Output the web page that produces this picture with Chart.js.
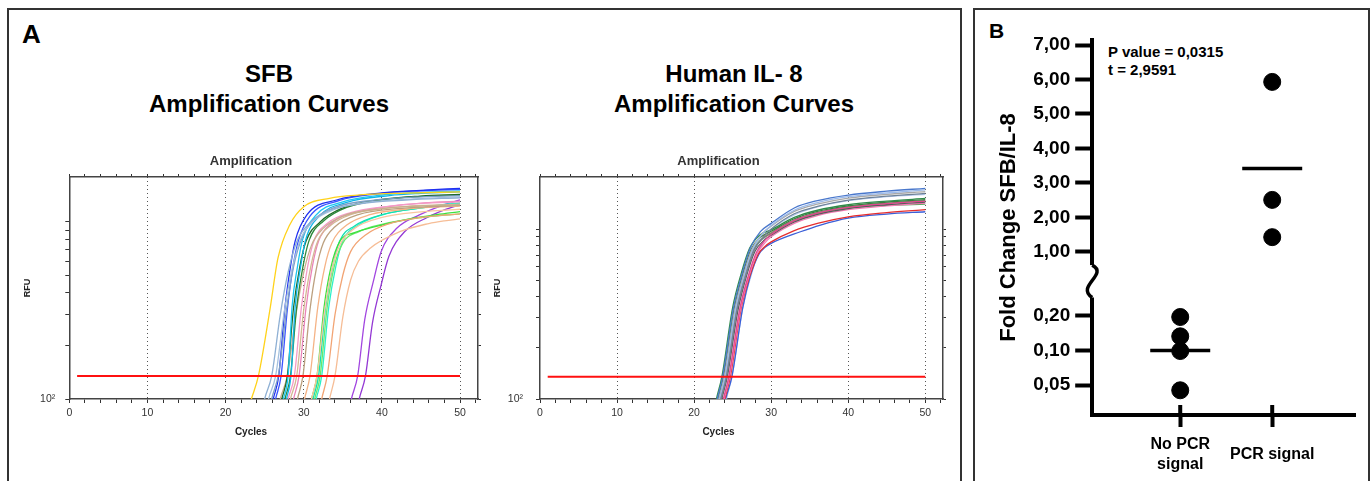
<!DOCTYPE html>
<html>
<head>
<meta charset="utf-8">
<script src="https://cdn.jsdelivr.net/npm/chart.js@4.4.1/dist/chart.umd.min.js"></script>
<style>
  body { margin: 0; background: #fff; width: 1370px; height: 481px; overflow: hidden; position: relative;
         font-family: "Liberation Sans", Arial, sans-serif; }
  .panel { position: absolute; border: 2px solid #333; border-bottom: none; box-sizing: border-box; }
  .txt { position: absolute; font-weight: bold; color: #000; white-space: nowrap; }
  .ctr { text-align: center; width: 300px; }
  canvas { position: absolute; }
</style>
</head>
<body>
<div class="panel" style="left:7px;top:8px;width:955px;height:480px"></div>
<div class="panel" style="left:973px;top:8px;width:397px;height:480px"></div>

<div class="txt" style="left:22px;top:21px;font-size:26px;line-height:26px">A</div>
<div class="txt ctr" style="left:119px;top:62px;font-size:24px;line-height:24px">SFB</div>
<div class="txt ctr" style="left:119px;top:92px;font-size:24px;line-height:24px">Amplification Curves</div>
<div class="txt ctr" style="left:584px;top:62px;font-size:24px;line-height:24px">Human IL- 8</div>
<div class="txt ctr" style="left:584px;top:92px;font-size:24px;line-height:24px">Amplification Curves</div>

<div class="txt" style="left:989px;top:20px;font-size:21px;line-height:21px">B</div>
<div class="txt" style="left:1108px;top:44px;font-size:15px;line-height:15px">P value = 0,0315</div>
<div class="txt" style="left:1108px;top:62px;font-size:15px;line-height:15px">t = 2,9591</div>

<canvas id="sfbChart" width="468" height="300" style="left:20px;top:140px"></canvas>
<canvas id="il8Chart" width="463" height="300" style="left:490px;top:140px"></canvas>
<canvas id="foldChart" width="392" height="466" style="left:976px;top:12px"></canvas>

<script>
// amplification curves, [cycle, RFU]
const sfbCurves = [
  [[23.0,90],[23.3,100],[24.2,135],[25.7,325],[26.7,624],[28.2,962],[30.0,1220],[33.3,1361],[37.2,1421],[43,1455],[50,1480]],
  [[24.8,90],[25.0,100],[25.9,135],[27.0,300],[28.0,520],[29.1,774],[30.5,960],[33,1150],[37.6,1274],[43,1330],[50,1370]],
  [[25.3,90],[25.5,100],[26.4,135],[27.5,310],[28.5,540],[29.6,800],[31,990],[34,1180],[38,1290],[44,1350],[50,1390]],
  [[25.7,90],[25.9,100],[26.8,140],[27.8,320],[28.7,560],[29.8,820],[31.2,1020],[34,1210],[39,1330],[44,1380],[50,1410]],
  [[25.9,90],[26.1,100],[26.8,135],[27.6,330],[28.3,560],[28.9,780],[30.4,1096],[34.2,1331],[40,1460],[45,1510],[50,1550]],
  [[26.2,90],[26.4,100],[27.1,135],[27.9,320],[28.6,550],[29.3,780],[30.8,1080],[34.5,1320],[40,1450],[45,1500],[50,1530]],
  [[27.2,90],[27.4,100],[28.0,135],[28.5,330],[29.2,560],[29.8,780],[31.6,1096],[35,1300],[40,1420],[45,1470],[50,1500]],
  [[27.6,90],[27.8,100],[28.4,140],[28.9,330],[29.6,560],[30.2,780],[32,1080],[35.5,1290],[41,1410],[45,1450],[50,1480]],
  [[27.0,90],[27.2,100],[27.9,135],[28.7,330],[29.5,560],[30.3,780],[32.1,1000],[35,1200],[40,1340],[45,1400],[50,1430]],
  [[27.4,90],[27.6,100],[28.3,135],[29.1,330],[29.9,560],[30.7,790],[32.5,1010],[35.5,1210],[41,1350],[45,1395],[50,1420]],
  [[26.8,90],[27.0,100],[27.9,135],[29.0,300],[30.0,520],[31.0,740],[32.5,920],[35,1080],[40,1190],[45,1230],[50,1250]],
  [[28.1,90],[28.3,100],[29.1,135],[30.0,320],[30.9,560],[31.8,780],[33.5,960],[36,1100],[41,1200],[45,1240],[50,1260]],
  [[29.0,90],[29.2,100],[29.9,135],[30.8,320],[31.6,540],[32.5,760],[34,940],[37,1100],[42,1190],[46,1220],[50,1240]],
  [[27.8,90],[28.0,100],[28.8,135],[29.7,330],[30.5,560],[31.3,780],[33,980],[36,1130],[41,1230],[45,1275],[50,1300]],
  [[28.5,90],[28.7,100],[29.4,135],[30.3,330],[31.1,560],[31.9,780],[33.5,980],[37,1140],[42,1240],[46,1285],[50,1310]],
  [[29.9,90],[30.1,100],[30.8,135],[31.8,330],[32.7,560],[33.6,760],[35.5,960],[38.5,1100],[43,1180],[47,1215],[50,1230]],
  [[30.8,90],[31.0,100],[31.7,135],[32.7,320],[33.6,540],[34.6,740],[36.5,920],[40,1060],[45,1140],[48,1165],[50,1180]],
  [[32.1,90],[32.3,100],[33.0,135],[34.0,300],[35.0,500],[36.0,680],[38,850],[41,980],[45,1060],[48,1095],[50,1110]],
  [[33.1,90],[33.3,100],[34.0,135],[35.0,290],[36.0,470],[37.0,600],[38.5,710],[42.3,881],[46,980],[48,1015],[50,1040]],
  [[30.8,90],[31.0,100],[31.7,135],[32.6,330],[33.5,560],[34.6,774],[36.5,870],[38.5,925],[44,1050],[47,1100],[50,1143]],
  [[31.2,90],[31.4,100],[32.1,135],[33.0,330],[33.9,560],[35.0,760],[37,880],[40,970],[45,1060],[48,1095],[50,1110]],
  [[31.0,90],[31.2,100],[31.9,135],[32.8,330],[33.7,560],[34.6,780],[36.5,950],[40,1100],[45,1200],[48,1240],[50,1260]],
  [[31.4,90],[31.6,100],[32.3,135],[33.2,330],[34.1,560],[35,780],[37,960],[40.5,1110],[45,1200],[48,1255],[50,1280]],
  [[35.9,90],[36.1,100],[36.9,135],[37.8,280],[38.9,460],[39.9,679],[41.9,921],[44.8,1096],[47.5,1230],[50,1331]],
  [[36.9,90],[37.1,100],[37.9,135],[38.8,270],[39.9,440],[40.9,640],[42.9,880],[45.8,1060],[48,1170],[50,1250]]
];
const sfbColors = ['#ffd21a','#8fb0d4','#a3c0de','#7d9fc6','#1f2ff0','#3a55ff','#1cc6f2','#10b4e8','#1d6b28',
  '#2c8a3a','#c9ae8e','#d4b894','#bca07f','#f49ac6','#ea84b8','#f5b386','#f8c6a0','#f2a474','#f6bd96',
  '#3ee03e','#6ae86a','#12e0b0','#2cf0c8','#a246e0','#9438d4'];

const il8Curves = [
  [[22.8,90],[23.0,100],[23.7,135],[25.1,342],[26.2,540],[27.3,775],[28.6,965],[30,1080],[33,1330],[36,1470],[40,1585],[45,1670],[50,1735]],
  [[23.1,90],[23.3,100],[24.0,135],[25.4,340],[26.5,535],[27.6,760],[28.9,940],[30,1050],[33,1290],[36,1430],[40,1550],[45,1630],[50,1700]],
  [[23.0,90],[23.2,100],[23.9,135],[25.3,340],[26.4,535],[27.5,760],[28.8,935],[30,1040],[33,1270],[36,1400],[40,1520],[45,1600],[50,1660]],
  [[23.3,90],[23.5,100],[24.2,135],[25.6,340],[26.7,530],[27.8,750],[29,900],[30,1000],[33,1230],[36,1360],[40,1480],[45,1560],[50,1620]],
  [[22.7,90],[22.9,100],[23.6,135],[25.0,345],[26.1,545],[27.2,770],[28.5,920],[30,990],[33,1170],[36,1290],[40,1390],[45,1460],[50,1514]],
  [[22.9,90],[23.1,100],[23.8,135],[25.2,340],[26.3,540],[27.4,760],[28.7,900],[30,970],[33,1150],[36,1270],[40,1370],[45,1440],[50,1490]],
  [[23.6,90],[23.8,100],[24.5,135],[25.9,335],[27.0,525],[28.1,730],[29.2,860],[30,930],[33,1120],[36,1240],[40,1340],[45,1410],[50,1460]],
  [[23.2,90],[23.4,100],[24.1,135],[25.5,340],[26.6,535],[27.7,750],[28.9,880],[30,950],[33,1130],[36,1250],[40,1350],[45,1420],[50,1470]],
  [[23.4,90],[23.6,100],[24.3,135],[25.7,335],[26.8,530],[27.9,740],[29.1,860],[30,920],[33,1100],[36,1220],[40,1320],[45,1390],[50,1440]],
  [[23.7,90],[23.9,100],[24.6,135],[26.0,335],[27.1,525],[28.2,720],[29.3,840],[30,900],[33,1080],[36,1200],[40,1300],[45,1370],[50,1420]],
  [[23.1,90],[23.3,100],[24.0,135],[25.4,340],[26.5,535],[27.6,750],[28.9,880],[30,940],[33,1110],[36,1230],[40,1330],[45,1380],[50,1400]],
  [[23.8,90],[24.0,100],[24.7,135],[26.1,340],[27.2,525],[28.3,710],[29.2,790],[30,840],[33,980],[36,1080],[40,1180],[45,1250],[50,1300]],
  [[23.9,90],[24.1,100],[24.9,135],[26.3,342],[27.3,530],[28.4,710],[29.2,780],[30,824],[33.8,964],[36.4,1056],[40,1160],[45,1225],[50,1264]],
  [[24.0,90],[24.2,100],[24.9,135],[26.3,340],[27.4,535],[28.5,760],[29.5,930],[30,990],[33,1210],[36,1350],[40,1470],[45,1550],[50,1600]]
];
const il8Colors = ['#4a78cc','#9cbaea','#a8a8a8','#6f8296','#2e8b4a','#3f7a3f','#e2458f','#8a7d6e',
  '#5a5a5a','#f27ab4','#55a85a','#e62e2e','#3b5fd8','#b4caf0'];

const thresholdRFU = 135;
const thresholdCycles = [1, 50];
const cycleTicks = [0,2,4,6,8,10,12,14,16,18,20,22,24,26,28,30,32,34,36,38,40,42,44,46,48,50,52];
const cycleLabels = [0,10,20,30,40,50];
const rfuTicks = [100,200,300,400,500,600,700,800,900,1000];

// panel B
const groupLabels = [['No PCR', 'signal'], 'PCR signal'];
const noSignalFold = [0.196, 0.133, 0.099, 0.045];
const pcrSignalFold = [5.93, 2.51, 1.43];
const groupMeans = [0.10, 3.42];
const upperTicks = [1, 2, 3, 4, 5, 6, 7];
const lowerTicks = [0.05, 0.1, 0.2];

Chart.defaults.font.family = '"Liberation Sans", Arial, sans-serif';

function makeAmp(id, curves, colors, yMax, yWidth, labelPad) {
  let datasets = [{
    data: thresholdCycles.map(c => ({x: c, y: thresholdRFU})),
    borderColor: '#ff1010', borderWidth: 2, pointRadius: 0, order: -1
  }];
  curves.forEach((c, i) => {
    datasets.push({
      data: c.map(p => ({x: p[0], y: p[1]})),
      borderColor: colors[i], borderWidth: 1.3, pointRadius: 0,
      cubicInterpolationMode: 'monotone'
    });
  });
  const setCycleTicks = s => { s.ticks = cycleTicks.map(v => ({value: v})); };
  const setRfuTicks = s => { s.ticks = rfuTicks.map(v => ({value: v})); };

  new Chart(document.getElementById(id), {
    type: 'line',
    data: {datasets: datasets},
    options: {
      responsive: false,
      animation: false,
      layout: {autoPadding: false, padding: {left: 0, right: 6, top: 0, bottom: 0}},
      plugins: {
        legend: {display: false},
        tooltip: {enabled: false},
        title: {display: true, text: 'Amplification', color: '#333',
                font: {size: 13, weight: 'bold'}, padding: {top: 13.2, bottom: 4.2}},
        subtitle: {display: true, text: 'Cycles', position: 'bottom', color: '#222',
                   font: {size: 10, weight: 'bold'}, padding: {top: 0, bottom: 2}}
      },
      scales: {
        x: {
          type: 'linear', min: 0, max: 52.3, position: 'bottom',
          afterBuildTicks: setCycleTicks,
          afterFit: s => { s.height = 27; },
          ticks: {autoSkip: false, maxRotation: 0, color: '#333', font: {size: 10.5}, padding: 3.7,
                  callback: v => cycleLabels.includes(v) ? String(v) : ''},
          grid: {
            color: ctx => (ctx.tick && ctx.tick.value % 10 === 0 && ctx.tick.value > 0) ? '#555' : 'rgba(0,0,0,0)',
            tickColor: '#333', tickLength: 4, lineWidth: 1
          },
          border: {display: true, color: '#444', width: 1.5, dash: [1, 3]}
        },
        x2: {
          type: 'linear', min: 0, max: 52.3, position: 'top',
          afterBuildTicks: setCycleTicks,
          afterFit: s => { s.height = 4; },
          ticks: {display: false},
          grid: {drawOnChartArea: false, tickColor: '#333', tickLength: 3},
          border: {display: true, color: '#444', width: 1.5}
        },
        y: {
          type: 'logarithmic', min: 100, max: yMax, position: 'left',
          afterBuildTicks: setRfuTicks,
          afterFit: s => { s.width = yWidth; },
          ticks: {autoSkip: false, color: '#333', font: {size: 10.5}, padding: labelPad,
                  callback: v => v === 100 ? '10\u00b2' : ''},
          grid: {drawOnChartArea: false, tickColor: '#333', tickLength: 4},
          border: {display: true, color: '#444', width: 1.5},
          title: {display: true, text: 'RFU', color: '#222', font: {size: 9, weight: 'bold'}, padding: 2.6}
        },
        y2: {
          type: 'logarithmic', min: 100, max: yMax, position: 'right',
          afterBuildTicks: setRfuTicks,
          afterFit: s => { s.width = 4; },
          ticks: {display: false},
          grid: {drawOnChartArea: false, tickColor: '#333', tickLength: 3},
          border: {display: true, color: '#444', width: 1.5}
        }
      }
    }
  });
}

makeAmp('sfbChart', sfbCurves, sfbColors, 1795, 49.3, 10);
makeAmp('il8Chart', il8Curves, il8Colors, 2024, 50, 13);

const fmt = v => v.toFixed(2).replace('.', ',');

const axisBreak = {
  id: 'axisBreak',
  afterDraw(chart) {
    const ctx = chart.ctx;
    const up = chart.scales.yUp, low = chart.scales.yLow, x = chart.scales.x;
    const ax = up.right;
    const y1 = up.getPixelForValue(0.62);
    const y2 = low.getPixelForValue(0.29);
    ctx.save();
    ctx.fillStyle = '#fff';
    ctx.fillRect(ax - 4, y1, 8, y2 - y1);
    ctx.strokeStyle = '#000';
    ctx.lineWidth = 3.5;
    ctx.beginPath();
    ctx.moveTo(ax, y1);
    ctx.bezierCurveTo(ax + 17, y1 + 9, ax - 17, y2 - 11, ax, y2);
    ctx.stroke();
    ctx.lineWidth = 4;
    [1, 2].forEach(v => {
      const px = x.getPixelForValue(v);
      ctx.beginPath();
      ctx.moveTo(px, x.top - 10);
      ctx.lineTo(px, x.top);
      ctx.stroke();
    });
    ctx.restore();
  }
};

const foldTickFont = {size: 19, weight: 'bold'};
const fitFoldY = s => { s.width = 64.8; s.paddingTop = 0; s.paddingBottom = 0; };

new Chart(document.getElementById('foldChart'), {
  type: 'scatter',
  data: {
    datasets: [
      {data: noSignalFold.map(v => ({x: 1, y: v})), yAxisID: 'yLow',
       pointRadius: 8.5, backgroundColor: '#000', borderColor: '#000'},
      {data: pcrSignalFold.map(v => ({x: 2, y: v})), yAxisID: 'yUp',
       pointRadius: 8.5, backgroundColor: '#000', borderColor: '#000'},
      {data: [{x: 1, y: groupMeans[0]}], yAxisID: 'yLow',
       pointStyle: 'line', pointRadius: 30, borderWidth: 3.5, borderColor: '#000'},
      {data: [{x: 2, y: groupMeans[1]}], yAxisID: 'yUp',
       pointStyle: 'line', pointRadius: 30, borderWidth: 3.5, borderColor: '#000'}
    ]
  },
  options: {
    responsive: false,
    animation: false,
    layout: {autoPadding: false, padding: {left: 14, right: 13, top: 28, bottom: 0}},
    plugins: {
      legend: {display: false},
      tooltip: {enabled: false},
      title: {display: true, text: 'Fold Change SFB/IL-8', position: 'left', fullSize: false,
              color: '#000', font: {size: 22, weight: 'bold'}, padding: 5.5}
    },
    scales: {
      x: {
        type: 'linear', min: 0.043, max: 2.9,
        afterBuildTicks: s => { s.ticks = [{value: 1}, {value: 2}]; },
        afterFit: s => { s.height = 63; s.paddingLeft = 0; s.paddingRight = 0; },
        ticks: {autoSkip: false, maxRotation: 0, crossAlign: 'center', color: '#000',
                font: {size: 16, weight: 'bold', lineHeight: 1.25}, padding: 18,
                callback: v => groupLabels[v - 1]},
        grid: {drawOnChartArea: false, tickLength: 12, tickWidth: 4, tickColor: '#000'},
        border: {display: true, width: 4, color: '#000'}
      },
      yLow: {
        type: 'logarithmic', position: 'left', stack: 'fold', stackWeight: 135,
        min: 0.0274, max: 0.412,
        afterBuildTicks: s => { s.ticks = lowerTicks.map(v => ({value: v})); },
        afterFit: fitFoldY,
        ticks: {autoSkip: false, color: '#000', font: foldTickFont, padding: 5, callback: v => fmt(v)},
        grid: {drawOnChartArea: false, tickLength: 17, tickWidth: 4, tickColor: '#000'},
        border: {display: true, width: 4, color: '#000'}
      },
      yUp: {
        type: 'linear', position: 'left', stack: 'fold', stackWeight: 240,
        min: 0.188, max: 7.145,
        afterBuildTicks: s => { s.ticks = upperTicks.map(v => ({value: v})); },
        afterFit: fitFoldY,
        ticks: {autoSkip: false, color: '#000', font: foldTickFont, padding: 5, callback: v => fmt(v)},
        grid: {drawOnChartArea: false, tickLength: 17, tickWidth: 4, tickColor: '#000'},
        border: {display: true, width: 4, color: '#000'}
      }
    }
  },
  plugins: [axisBreak]
});
</script>
</body>
</html>
